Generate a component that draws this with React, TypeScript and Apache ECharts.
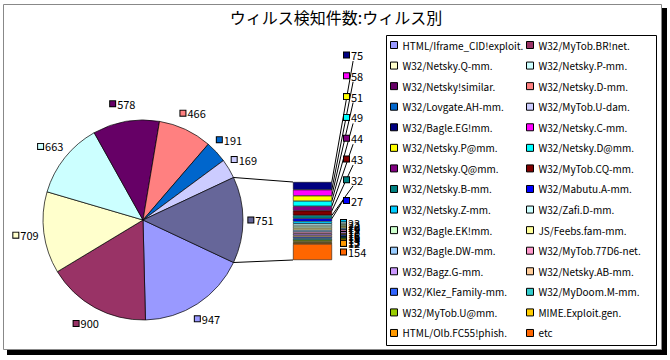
import React, { useEffect, useRef } from 'react';
import * as echarts from 'echarts';

const titleText = 'ウィルス検知件数:ウィルス別';

const pieNames = [
  'HTML/Iframe_CID!exploit.', 'W32/MyTob.BR!net.', 'W32/Netsky.Q-mm.', 'W32/Netsky.P-mm.',
  'W32/Netsky!similar.', 'W32/Netsky.D-mm.', 'W32/Lovgate.AH-mm.', 'W32/MyTob.U-dam.',
];
const pieValues = [947, 900, 709, 663, 578, 466, 191, 169];
const pieColors = ['#9999FF', '#993366', '#FFFFCC', '#CCFFFF', '#660066', '#FF8080', '#0066CC', '#CCCCFF'];
const otherName = 'その他';
const otherColor = '#666699';

const barNames = [
  'W32/Bagle.EG!mm.', 'W32/Netsky.C-mm.', 'W32/Netsky.P@mm.', 'W32/Netsky.D@mm.',
  'W32/Netsky.Q@mm.', 'W32/MyTob.CQ-mm.', 'W32/Netsky.B-mm.', 'W32/Mabutu.A-mm.',
  'W32/Netsky.Z-mm.', 'W32/Zafi.D-mm.', 'W32/Bagle.EK!mm.', 'JS/Feebs.fam-mm.',
  'W32/Bagle.DW-mm.', 'W32/MyTob.77D6-net.', 'W32/Bagz.G-mm.', 'W32/Netsky.AB-mm.',
  'W32/Klez_Family-mm.', 'W32/MyDoom.M-mm.', 'W32/MyTob.U@mm.', 'MIME.Exploit.gen.',
  'HTML/Olb.FC55!phish.', 'etc',
];
const barValues = [75, 58, 51, 49, 44, 43, 32, 27, 23, 22, 20, 19, 18, 17, 16, 16, 15, 14, 13, 13, 12, 154];
const barColors = [
  '#000080', '#FF00FF', '#FFFF00', '#00FFFF', '#800080', '#800000', '#008080', '#0000FF',
  '#00CCFF', '#CCFFFF', '#CCFFCC', '#FFFF99', '#99CCFF', '#FF99CC', '#CC99FF', '#FFCC99',
  '#3366FF', '#33CCCC', '#99CC00', '#FFCC00', '#FF9900', '#FF6600',
];

const FONT = '"Noto Sans CJK JP", "Noto Sans", sans-serif';

export default function App() {
  const ref = useRef<HTMLDivElement>(null);
  useEffect(() => {
    if (!ref.current) return;
    const chart = echarts.init(ref.current, undefined, { renderer: 'svg' });

    // layout
    const cx = 143, cy = 220, r = 100, labelR = 118;
    const gridLeft = 293, gridTop = 182, gridW = 39, gridH = 78;

    const otherValue = barValues.reduce((a, b) => a + b, 0);
    const allPieValues = [...pieValues, otherValue];
    const total = allPieValues.reduce((a, b) => a + b, 0);
    const halfOther = (otherValue / total) * 180;
    const startAngle = -halfOther;
    const midAngles: number[] = [];
    let cum = 0;
    allPieValues.forEach((v) => {
      const deg = startAngle - ((cum + v / 2) / total) * 360;
      midAngles.push((deg * Math.PI) / 180);
      cum += v;
    });

    const rich: Record<string, any> = {
      v: { fontSize: 11, fontFamily: FONT, color: '#000', padding: [0, 0, 0, 2] },
    };
    [...pieColors, otherColor].forEach((c, i) => {
      rich['p' + i] = { width: 5, height: 5, backgroundColor: c, borderColor: '#000', borderWidth: 1 };
    });
    barColors.forEach((c, i) => {
      rich['b' + i] = { width: 5, height: 5, backgroundColor: c, borderColor: '#000', borderWidth: 1 };
    });

    const allNames = [...pieNames, ...barNames];
    const col1 = allNames.filter((_, i) => i % 2 === 0);
    const col2 = allNames.filter((_, i) => i % 2 === 1);

    const a0 = (halfOther * Math.PI) / 180;
    const upper = [cx + r * Math.cos(a0), cy - r * Math.sin(a0)];
    const lower = [cx + r * Math.cos(a0), cy + r * Math.sin(a0)];

    const legendCommon = {
      orient: 'vertical',
      top: 38,
      padding: 0,
      itemWidth: 7,
      itemHeight: 7,
      itemGap: 6.57,
      icon: 'rect',
      selectedMode: false,
      itemStyle: { borderColor: '#000', borderWidth: 1 },
      textStyle: { fontSize: 10, fontFamily: FONT, color: '#000', lineHeight: 14 },
    };

    const option: any = {
      animation: false,
      backgroundColor: '#fff',
      title: {
        text: titleText,
        left: 331,
        textAlign: 'center',
        top: 4,
        textStyle: { fontSize: 16, fontWeight: 'normal', fontFamily: FONT, color: '#000' },
      },
      graphic: [
        { type: 'rect', z: -10, shape: { x: 7, y: 8, width: 660, height: 347 }, style: { fill: '#000' } },
        { type: 'rect', z: -9, shape: { x: 3.5, y: 4.5, width: 658, height: 345 }, style: { fill: '#fff', stroke: '#888', lineWidth: 1 } },
        { type: 'rect', z: -8, shape: { x: 386.5, y: 35.5, width: 270, height: 310 }, style: { fill: '#fff', stroke: '#000', lineWidth: 1 } },
        { type: 'line', z: 10, shape: { x1: upper[0], y1: upper[1], x2: gridLeft, y2: gridTop }, style: { stroke: '#000', lineWidth: 1 } },
        { type: 'line', z: 10, shape: { x1: lower[0], y1: lower[1], x2: gridLeft, y2: gridTop + gridH }, style: { stroke: '#000', lineWidth: 1 } },
      ],
      legend: [
        { ...legendCommon, left: 390, data: col1 },
        { ...legendCommon, left: 526, data: col2 },
      ],
      grid: { left: gridLeft, top: gridTop, width: gridW, height: gridH },
      xAxis: { type: 'category', data: ['other'], show: false },
      yAxis: { type: 'value', min: 0, max: otherValue, inverse: true, show: false },
      series: [
        {
          type: 'pie',
          center: [cx, cy],
          radius: r,
          startAngle,
          clockwise: true,
          avoidLabelOverlap: false,
          silent: true,
          data: allPieValues.map((v, i) => ({
            name: i < pieNames.length ? pieNames[i] : otherName,
            value: v,
            itemStyle: { color: i < pieColors.length ? pieColors[i] : otherColor },
          })),
          itemStyle: { borderColor: '#000', borderWidth: 0.7 },
          label: {
            show: true,
            position: 'outside',
            formatter: (p: any) => `{p${p.dataIndex}|}{v|${p.value}}`,
            rich,
          },
          labelLine: { show: false },
          labelLayout: (p: any) => {
            const a = midAngles[p.dataIndex];
            return { x: cx + labelR * Math.cos(a), y: cy - labelR * Math.sin(a), align: 'center', verticalAlign: 'middle' };
          },
        },
        ...barValues.map((v, i) => ({
          type: 'bar',
          name: barNames[i],
          stack: 'other',
          barWidth: '100%',
          silent: true,
          data: [v],
          itemStyle: { color: barColors[i], borderColor: '#000', borderWidth: 0.5 },
          label: {
            show: true,
            position: 'right',
            distance: 9,
            formatter: `{b${i}|}{v|${v}}`,
            rich,
          },
          labelLine: { show: i < 8, lineStyle: { color: '#000', width: 1 } },
          labelLayout: i < 8 ? { x: 344, y: 55 + i * 20.8, align: 'left', verticalAlign: 'middle' } : undefined,
        })),
      ],
    };
    chart.setOption(option);
    return () => chart.dispose();
  }, []);
  return <div ref={ref} style={{ position: 'absolute', left: 0, top: 0, width: 670, height: 360 }} />;
}
